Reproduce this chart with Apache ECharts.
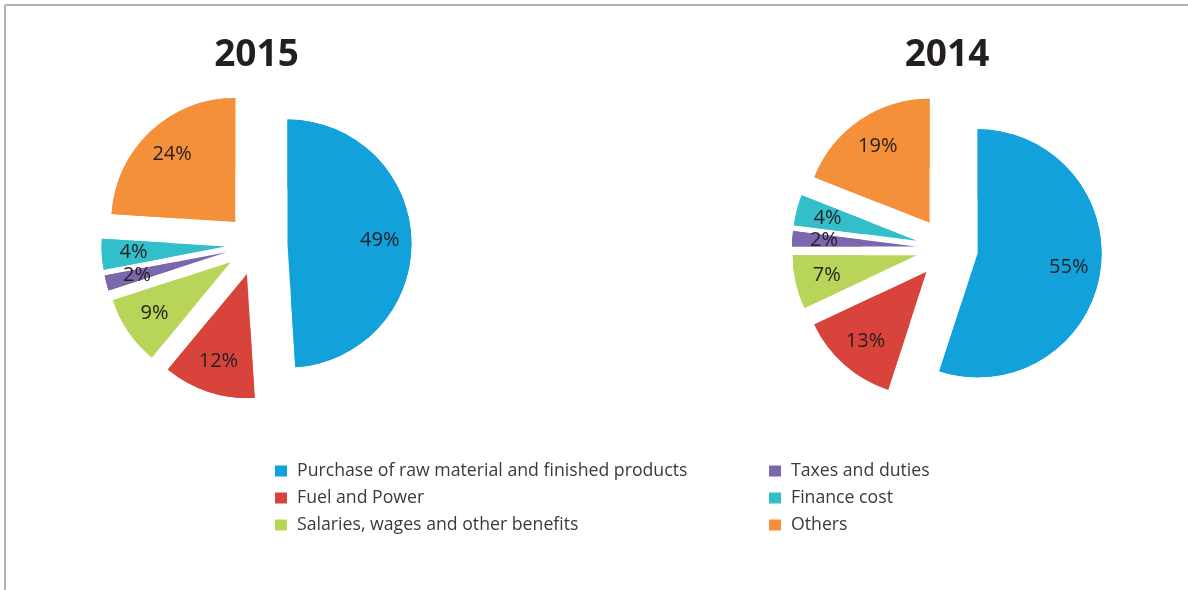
<!DOCTYPE html>
<html>
<head>
<meta charset="utf-8">
<script src="https://cdn.jsdelivr.net/npm/echarts@6/dist/echarts.min.js"></script>
<style>
html,body{margin:0;padding:0;background:#fff;}
#chart{width:1188px;height:590px;}
</style>
</head>
<body>
<div id="chart"></div>
<script>
var categories = [
  'Purchase of raw material and finished products',
  'Fuel and Power',
  'Salaries, wages and other benefits',
  'Taxes and duties',
  'Finance cost',
  'Others'
];
var values2015 = [49, 12, 9, 2, 4, 24];
var values2014 = [55, 13, 7, 2, 4, 19];
var yearTitles = ['2015', '2014'];
var colors = ['#12a1db', '#d8443c', '#b8d55a', '#7a67ad', '#32bfca', '#f5903a'];

var FONT = '"Open Sans", "Noto Sans", sans-serif';
var R = 124, OFFSET = 31;
var centers = [[256.5, 244.5], [947, 248.5]];

function items(vals) {
  return categories.map(function (n, i) {
    return { name: n, value: vals[i], selected: true, itemStyle: { color: colors[i] } };
  });
}

function pieSeries(vals, center) {
  return {
    type: 'pie',
    z: 2,
    center: center,
    radius: [0, R],
    startAngle: 90,
    clockwise: true,
    selectedMode: 'multiple',
    selectedOffset: OFFSET,
    silent: true,
    animation: false,
    label: { show: false },
    labelLine: { show: false },
    itemStyle: { borderWidth: 0 },
    data: items(vals)
  };
}

// Outer ring drawn in the same colours on top of the pie; it only carries the labels,
// so they sit at about three quarters of the radius like in the original.
function labelSeries(vals, center) {
  return {
    type: 'pie',
    z: 3,
    center: center,
    radius: [R * 0.44, R],
    startAngle: 90,
    clockwise: true,
    selectedMode: 'multiple',
    selectedOffset: OFFSET,
    silent: true,
    animation: false,
    legendHoverLink: false,
    avoidLabelOverlap: false,
    minShowLabelAngle: 0,
    itemStyle: { borderWidth: 0 },
    label: {
      show: true,
      position: 'inside',
      overflow: 'none',
      formatter: '{c}%',
      color: '#231f20',
      fontSize: 20,
      fontFamily: FONT
    },
    labelLayout: { hideOverlap: false },
    labelLine: { show: false },
    data: items(vals)
  };
}

function legend(names, left) {
  return {
    orient: 'vertical',
    left: left,
    top: 461,
    padding: 0,
    icon: 'rect',
    itemWidth: 12,
    itemHeight: 11,
    itemGap: 7,
    selectedMode: false,
    data: names.map(function (n) {
      return { name: n, itemStyle: { color: colors[categories.indexOf(n)] } };
    }),
    textStyle: {
      fontSize: 17.7,
      lineHeight: 20,
      color: '#3a3a3a',
      fontFamily: FONT,
      padding: [0, 0, 0, 5]
    }
  };
}

var chart = echarts.init(document.getElementById('chart'), null, { renderer: 'canvas' });
chart.setOption({
  animation: false,
  title: [
    { text: yearTitles[0], left: centers[0][0] - 5, top: 32, textAlign: 'center',
      textStyle: { fontSize: 37, fontWeight: 'bold', color: '#231f20', fontFamily: FONT } },
    { text: yearTitles[1], left: centers[1][0] - 5, top: 32, textAlign: 'center',
      textStyle: { fontSize: 37, fontWeight: 'bold', color: '#231f20', fontFamily: FONT } }
  ],
  legend: [
    legend(categories.slice(0, 3), 275),
    legend(categories.slice(3, 6), 769)
  ],
  graphic: [
    { type: 'line', shape: { x1: 5, y1: 5, x2: 1188, y2: 5 }, style: { stroke: '#b1b0b5', lineWidth: 2 } },
    { type: 'line', shape: { x1: 5, y1: 5, x2: 5, y2: 590 }, style: { stroke: '#b1b0b5', lineWidth: 2 } }
  ],
  series: [
    pieSeries(values2015, centers[0]),
    pieSeries(values2014, centers[1]),
    labelSeries(values2015, centers[0]),
    labelSeries(values2014, centers[1])
  ]
});
</script>
</body>
</html>
